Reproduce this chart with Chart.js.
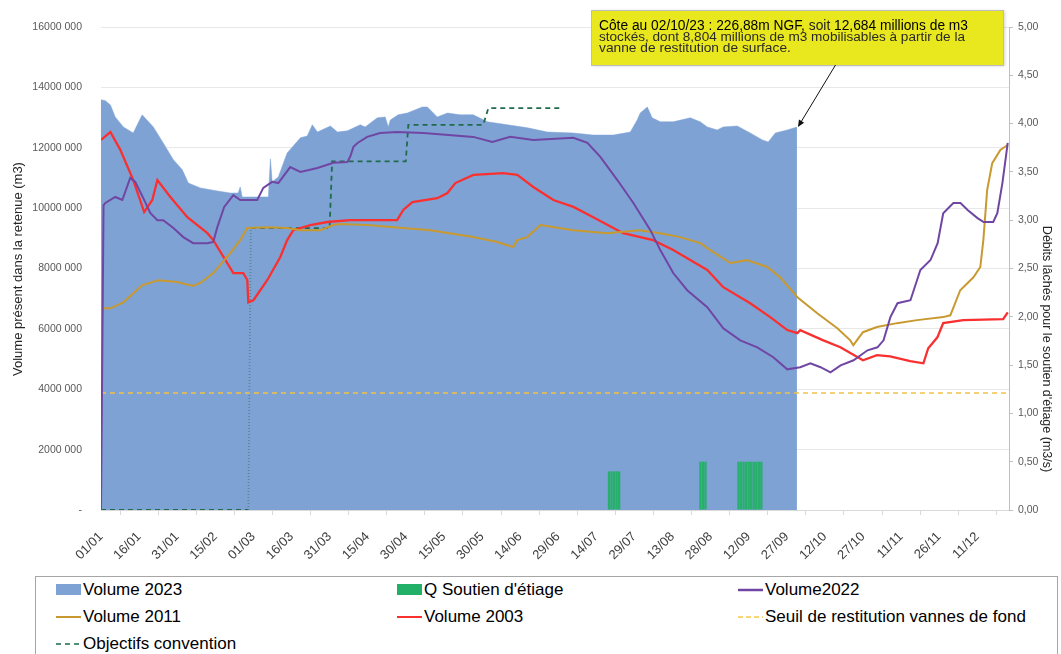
<!DOCTYPE html>
<html>
<head>
<meta charset="utf-8">
<script src="https://cdn.jsdelivr.net/npm/chart.js@4.4.1/dist/chart.umd.min.js"></script>
<style>
  html,body{margin:0;padding:0;background:#fff;}
  #wrap{position:relative;width:1061px;height:654px;overflow:hidden;font-family:"Liberation Sans",Arial,sans-serif;}
  #cwrap{position:absolute;left:0;top:0;width:1061px;height:575px;}
  #legend{position:absolute;left:35px;top:576px;width:1023px;height:120px;border:1px solid #a6a6a6;box-sizing:border-box;}
  .item{position:absolute;height:20px;display:flex;align-items:center;font-size:17px;line-height:20px;color:#000;white-space:nowrap;}
  .item svg{margin-right:2px;flex:none;}
</style>
</head>
<body>
<div id="wrap">
  <div id="cwrap"><canvas id="c" width="1061" height="575"></canvas></div>
  <div id="legend">
    <div class="item" style="left:20px;top:3px"><svg width="25" height="20"><rect x="0" y="4" width="25" height="11" fill="#7FA2D5"/></svg>Volume 2023</div>
    <div class="item" style="left:361px;top:3px"><svg width="25" height="20"><rect x="0" y="4" width="25" height="11" fill="#22B068"/></svg>Q Soutien d'étiage</div>
    <div class="item" style="left:702px;top:3px"><svg width="25" height="20"><line x1="0" y1="10" x2="25" y2="10" stroke="#7046A3" stroke-width="2.5"/></svg>Volume2022</div>
    <div class="item" style="left:20px;top:30px"><svg width="25" height="20"><line x1="0" y1="10" x2="25" y2="10" stroke="#C8992F" stroke-width="2"/></svg>Volume 2011</div>
    <div class="item" style="left:361px;top:30px"><svg width="25" height="20"><line x1="0" y1="10" x2="25" y2="10" stroke="#F9302F" stroke-width="2"/></svg>Volume 2003</div>
    <div class="item" style="left:702px;top:30px"><svg width="25" height="20"><line x1="0" y1="10" x2="25" y2="10" stroke="#F7C948" stroke-width="1.5" stroke-dasharray="5,3"/></svg>Seuil de restitution vannes de fond</div>
    <div class="item" style="left:20px;top:57px"><svg width="25" height="20"><line x1="0" y1="10" x2="25" y2="10" stroke="#1F6B4B" stroke-width="1.5" stroke-dasharray="5,4"/></svg>Objectifs convention</div>
  </div>
</div>
<script>
// ---- Data (x = day index from 01/01, volumes in millions of m3, flows in m3/s) ----
const tickLabels = ['01/01','16/01','31/01','15/02','01/03','16/03','31/03','15/04','30/04','15/05','30/05','14/06','29/06','14/07','29/07','13/08','28/08','12/09','27/09','12/10','27/10','11/11','26/11','11/12'];

const vol2023 = [[0,13.59],[1.7,13.56],[3.7,13.42],[5.6,13.02],[8.8,12.69],[12.7,12.49],[16.2,13.09],[20.6,12.69],[24.5,12.16],[28.5,11.6],[32,11.27],[34.4,10.83],[39.1,10.67],[45.8,10.57],[50.9,10.5],[54,10.5],[54.8,10.7],[55.6,10.37],[62.7,10.37],[65.9,10.37],[66.7,11.63],[67.4,10.87],[69.8,11.03],[73.3,11.83],[78.5,12.33],[81.2,12.39],[83.2,12.76],[85.2,12.52],[90.3,12.72],[93.1,12.52],[97,12.56],[102.1,12.76],[104,12.69],[108.8,12.99],[111.9,13.02],[113.1,12.69],[113.9,12.92],[117,13.09],[120.6,13.15],[126.5,13.35],[128.5,13.35],[132.4,13.02],[136.4,13.15],[141.4,13.09],[146.6,13.09],[152.1,12.86],[160,12.76],[167.9,12.66],[175.8,12.52],[185.9,12.49],[193.8,12.42],[201.7,12.42],[208.4,12.52],[211.1,12.92],[212.3,13.15],[215.1,13.35],[217,12.99],[220.2,12.86],[225.3,12.86],[232,12.99],[235.9,12.86],[238.7,12.69],[242.6,12.59],[245,12.69],[250.5,12.72],[255.6,12.49],[260.4,12.26],[262.7,12.19],[265.5,12.49],[270.2,12.59],[274,12.684]];

const soutien = [[200,0.4],[201,0.4],[202,0.4],[203,0.4],[204,0.4],[236,0.5],[237,0.5],[238,0.5],[251,0.5],[252,0.5],[253,0.5],[254,0.5],[255,0.5],[256,0.5],[257,0.5],[258,0.5],[259,0.5],[260,0.5]];

const vol2022 = [[0,0],[1,10.1],[1.7,10.17],[5.6,10.37],[8.4,10.27],[11.5,11.0],[13.5,10.87],[16.6,10.34],[19.4,9.84],[22.2,9.6],[24.5,9.6],[28.5,9.34],[32.4,9.04],[36.3,8.84],[41.9,8.84],[44.2,8.88],[45.8,9.37],[48.5,10.04],[52.1,10.43],[54.8,10.27],[61.5,10.27],[63.9,10.67],[67.4,10.87],[69.8,10.83],[74.5,11.36],[78.5,11.2],[85.2,11.33],[91.5,11.5],[97,11.53],[98.1,11.7],[99.4,12.03],[101,12.16],[104.8,12.36],[109.9,12.49],[116.6,12.52],[127,12.49],[146.6,12.36],[154.1,12.19],[161.1,12.36],[170.2,12.26],[186,12.33],[191.5,12.16],[196.6,11.7],[203.3,10.93],[209.6,10.17],[216.3,9.27],[220.2,8.61],[225.3,7.85],[230.8,7.28],[238.7,6.72],[245,6.02],[251.7,5.62],[258.4,5.39],[264.7,5.06],[270.2,4.66],[275.3,4.73],[279.3,4.86],[283.3,4.73],[287.2,4.56],[291.2,4.79],[296.3,4.96],[301.8,5.29],[305.7,5.39],[308.1,5.62],[310.8,6.39],[313.6,6.85],[318.7,6.95],[322.6,7.95],[326.6,8.28],[329.4,8.84],[331.6,9.83],[335.6,10.17],[338.4,10.17],[341.2,9.94],[345.1,9.67],[347.5,9.54],[351.3,9.54],[352.9,9.83],[354.9,10.83],[357,12.16]];

const vol2011 = [[0,6.68],[3.7,6.68],[8.8,6.88],[16.3,7.45],[22.6,7.61],[30,7.55],[36.3,7.42],[39.1,7.52],[44.2,7.85],[50.9,8.51],[54.8,8.94],[57.6,9.34],[65.5,9.37],[73.3,9.34],[78.5,9.27],[86.3,9.27],[91.5,9.44],[94.2,9.47],[104.8,9.44],[129.6,9.27],[146.6,9.04],[156,8.88],[162.3,8.71],[163.9,8.94],[167.8,9.04],[173,9.44],[186,9.27],[199.3,9.17],[212,9.27],[220.2,9.17],[228,9.04],[236,8.84],[239.9,8.61],[247.8,8.18],[249.7,8.21],[254.4,8.28],[262.3,8.05],[267.4,7.71],[274.2,7.05],[282,6.52],[289.9,6.02],[295,5.62],[296.2,5.46],[300,5.89],[305.5,6.06],[313.4,6.19],[321.3,6.29],[331.6,6.39],[334.4,6.45],[338.3,7.28],[343.5,7.71],[346.2,8.05],[347.4,8.94],[348.9,10.6],[350.9,11.49],[354.1,11.93],[357,12.09]];

const vol2003 = [[0,12.26],[3.7,12.52],[7.6,11.93],[12.7,10.93],[17,9.87],[20.2,10.27],[22.2,10.93],[27.3,10.37],[34,9.7],[41.9,9.17],[44.2,8.94],[52.1,7.85],[56,7.85],[57.6,7.62],[58,6.88],[60,6.95],[65.5,7.62],[70.6,8.38],[73.3,8.94],[75.7,9.27],[82.4,9.44],[89.1,9.54],[98.1,9.6],[116.6,9.6],[119,9.94],[122.6,10.2],[132.4,10.33],[136.4,10.5],[139.5,10.83],[146.6,11.1],[158.4,11.16],[163.9,11.1],[170.2,10.7],[178.1,10.27],[186,10.04],[193.8,9.7],[205.6,9.17],[217.4,8.94],[225.3,8.61],[232,8.28],[238.7,7.95],[245,7.38],[255.6,6.85],[263.5,6.39],[270.2,5.96],[274.2,5.86],[275.3,5.96],[284.4,5.62],[291.1,5.39],[300,4.96],[305.5,5.13],[310.7,5.09],[318.6,4.93],[323.8,4.86],[325.7,5.36],[329.3,5.72],[331.6,6.19],[339.5,6.29],[355.2,6.32],[357,6.55]];

const seuil = [[0,3.875],[357.5,3.875]];

const objectifs = [[0,0],[58,0],[59,9.34],[90,9.34],[91,11.55],[120,11.55],[121,12.76],[150.5,12.76],[152.5,13.31],[181,13.31]];

const leftTitle = 'Volume présent dans la retenue (m3)';
const rightTitle = "Débits lâchés pour le soutien d'étiage (m3/s)";
const noteLines = [
  [['Côte au 02/10/23 : 226,88m NGF, ', '#000'], ['soit ', '#222'], ['12,684 millions de m3', '#000']],
  [['stockés, dont 8,804 millions de m3 mobilisables à partir de la', '#2a2a2a']],
  [['vanne de restitution de surface.', '#2a2a2a']]
];
const notePoint = [274, 12.684];

// ---- helpers ----
const pts = arr => arr.map(p => ({x: p[0], y: p[1]}));
const FONT = '"Liberation Sans", Arial, sans-serif';

const overlay = {
  id: 'overlay',
  afterDraw(chart) {
    const ctx = chart.ctx;
    const xs = chart.scales.x, ys = chart.scales.y;
    // axis titles
    ctx.save();
    ctx.fillStyle = '#262626';
    ctx.font = '13px ' + FONT;
    ctx.textAlign = 'center';
    ctx.textBaseline = 'middle';
    ctx.translate(18, 269);
    ctx.rotate(-Math.PI / 2);
    ctx.fillText(leftTitle, 0, 0);
    ctx.restore();
    ctx.save();
    ctx.fillStyle = '#262626';
    ctx.font = '12.5px ' + FONT;
    ctx.textAlign = 'center';
    ctx.textBaseline = 'middle';
    ctx.translate(1046, 349);
    ctx.rotate(Math.PI / 2);
    ctx.fillText(rightTitle, 0, 0);
    ctx.restore();

    // annotation box
    ctx.save();
    ctx.shadowColor = 'rgba(0,0,0,0.18)';
    ctx.shadowBlur = 3;
    ctx.shadowOffsetX = 1;
    ctx.shadowOffsetY = 1;
    ctx.fillStyle = '#E9E81F';
    ctx.fillRect(592, 10, 412, 55);
    ctx.restore();
    ctx.save();
    ctx.strokeStyle = '#bdbdbd';
    ctx.lineWidth = 1;
    ctx.strokeRect(591.5, 10.5, 412, 55);
    // text lines
    const targets = [369, 366, 195];
    const baselines = [30, 41, 51.5];
    const baseSizes = [14, 12.5, 12.5];
    ctx.textBaseline = 'alphabetic';
    ctx.textAlign = 'left';
    noteLines.forEach((segs, i) => {
      const size = baseSizes[i];
      ctx.font = size + 'px ' + FONT;
      const full = segs.map(s => s[0]).join('');
      const w = ctx.measureText(full).width;
      const sx = targets[i] / w;
      ctx.save();
      ctx.translate(599, baselines[i]);
      ctx.scale(Math.min(1.1, sx), 1);
      let cx = 0;
      segs.forEach(s => {
        ctx.fillStyle = s[1];
        ctx.fillText(s[0], cx, 0);
        cx += ctx.measureText(s[0]).width;
      });
      ctx.restore();
    });
    ctx.restore();

    // arrow
    const ex = xs.getPixelForValue(notePoint[0]) + 1;
    const ey = ys.getPixelForValue(notePoint[1]);
    const sx0 = 835.5, sy0 = 65;
    const ang = Math.atan2(ey - sy0, ex - sx0);
    ctx.save();
    ctx.strokeStyle = '#111';
    ctx.fillStyle = '#111';
    ctx.lineWidth = 1;
    ctx.beginPath();
    ctx.moveTo(sx0, sy0);
    ctx.lineTo(ex - 5 * Math.cos(ang), ey - 5 * Math.sin(ang));
    ctx.stroke();
    ctx.beginPath();
    ctx.moveTo(ex, ey);
    ctx.lineTo(ex - 7 * Math.cos(ang) + 3 * Math.sin(ang), ey - 7 * Math.sin(ang) - 3 * Math.cos(ang));
    ctx.lineTo(ex - 7 * Math.cos(ang) - 3 * Math.sin(ang), ey - 7 * Math.sin(ang) + 3 * Math.cos(ang));
    ctx.closePath();
    ctx.fill();
    ctx.restore();
  }
};

const lineDs = (label, arr, color, width, extra) => Object.assign({
  label, data: pts(arr), yAxisID: 'y', borderColor: color, backgroundColor: color,
  borderWidth: width, pointRadius: 0, pointHoverRadius: 0, fill: false, tension: 0, order: 1
}, extra || {});

const isRise = c => c.p0.parsed.y === 0 && c.p1.parsed.y > 0;

new Chart(document.getElementById('c'), {
  type: 'line',
  data: {
    datasets: [
      {label: 'Volume 2023', data: pts(vol2023), yAxisID: 'y', fill: 'origin',
       backgroundColor: '#7FA2D5', borderColor: '#7FA2D5', borderWidth: 0.5,
       pointRadius: 0, tension: 0, order: 10},
      {type: 'bar', label: "Q Soutien d'étiage", data: pts(soutien), yAxisID: 'y1',
       backgroundColor: '#26B06A', borderWidth: 0, barPercentage: 0.92, categoryPercentage: 1, order: 5},
      lineDs('Volume2022', vol2022, '#7046A3', 2),
      lineDs('Volume 2011', vol2011, '#C8992F', 2),
      lineDs('Volume 2003', vol2003, '#F9302F', 2.3),
      lineDs('Seuil de restitution vannes de fond', seuil, '#F2C24A', 1.5, {borderDash: [5, 4]}),
      lineDs('Objectifs convention', objectifs, '#1F6B4B', 1.8, {
        borderDash: [5, 4],
        segment: {
          borderDash: c => isRise(c) ? [1, 2] : undefined,
          borderColor: c => isRise(c) ? 'rgba(31,107,75,0.45)' : undefined
        }
      })
    ]
  },
  options: {
    responsive: false,
    animation: false,
    devicePixelRatio: 1,
    layout: {padding: {top: 27, left: 0, right: 0, bottom: 0}},
    plugins: {legend: {display: false}, tooltip: {enabled: false}},
    scales: {
      x: {
        type: 'linear', min: 0, max: 357.5, offset: false,
        afterBuildTicks: s => { s.ticks = tickLabels.map((_, i) => ({value: i * 15})); },
        afterFit: s => { s.height = 65; },
        ticks: {
          autoSkip: false, maxRotation: 45, minRotation: 45, padding: 14,
          color: '#404040', font: {family: FONT, size: 13},
          callback: (v) => tickLabels[Math.round(v / 15)] || ''
        },
        grid: {drawOnChartArea: false, drawTicks: true, tickLength: 5, color: '#d9d9d9'},
        border: {color: '#d9d9d9'}
      },
      y: {
        position: 'left', min: 0, max: 16,
        afterFit: s => { s.width = 101; },
        ticks: {
          stepSize: 2, padding: 19, color: '#595959', font: {family: FONT, size: 10.5},
          callback: v => v === 0 ? '-' : (v * 1000) + ' 000'
        },
        grid: {color: '#e8e8e8', drawTicks: false},
        border: {display: false}
      },
      y1: {
        position: 'right', min: 0, max: 5,
        afterFit: s => { s.width = 52; },
        ticks: {
          stepSize: 0.5, padding: 5, color: '#595959', font: {family: FONT, size: 10.5},
          callback: v => v.toFixed(2).replace('.', ',')
        },
        grid: {drawOnChartArea: false, drawTicks: true, tickLength: 4, color: '#bfbfbf'},
        border: {color: '#bfbfbf'}
      }
    }
  },
  plugins: [overlay]
});
</script>
</body>
</html>
